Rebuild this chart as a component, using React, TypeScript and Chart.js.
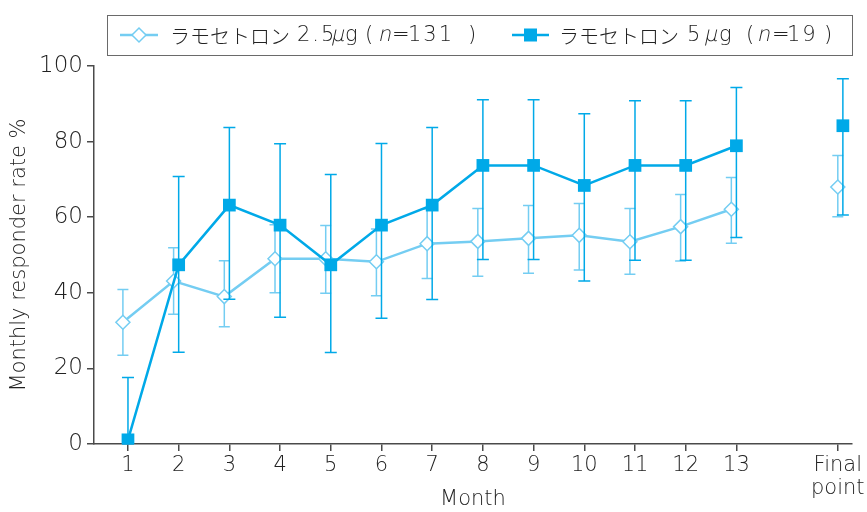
import React, { useEffect, useRef } from 'react';
import { Chart, registerables } from 'chart.js';

Chart.register(...registerables);

// Months on the x axis; the final-point visit sits at position 15.
const months = [1, 2, 3, 4, 5, 6, 7, 8, 9, 10, 11, 12, 13];
const finalPosition = 15;
const finalLabel = ['Final', 'point'];
const yTicks = [0, 20, 40, 60, 80, 100];

// ラモセトロン 2.5μg (n=131): responder rate % with 95% CI
const lowDoseRate = [32.2, 43.1, 39.0, 49.0, 49.0, 48.2, 53.0, 53.6, 54.4, 55.2, 53.5, 57.5, 62.1];
const lowDoseUpper = [40.9, 51.9, 48.5, 58.0, 57.8, 56.9, 62.2, 62.3, 63.1, 63.6, 62.3, 66.0, 70.5];
const lowDoseLower = [23.5, 34.3, 31.0, 40.0, 39.9, 39.2, 43.8, 44.4, 45.2, 46.0, 44.9, 48.4, 53.1];
const lowDoseFinal = 68.0;
const lowDoseFinalUpper = 76.3;
const lowDoseFinalLower = 60.1;

// ラモセトロン 5μg (n=19): responder rate % with 95% CI
const highDoseRate = [1.1, 47.4, 63.2, 57.9, 47.4, 57.9, 63.2, 73.7, 73.7, 68.4, 73.7, 73.7, 78.9];
const highDoseUpper = [17.6, 70.8, 83.7, 79.4, 71.3, 79.5, 83.7, 91.1, 91.1, 87.4, 90.8, 90.8, 94.3];
const highDoseLower = [0, 24.3, 38.3, 33.5, 24.2, 33.3, 38.2, 48.8, 48.8, 43.1, 48.6, 48.6, 54.6];
const highDoseFinal = 84.2;
const highDoseFinalUpper = 96.6;
const highDoseFinalLower = 60.6;

const LATIN = '"DejaVu Sans", sans-serif';
const KANA = '"Noto Sans CJK JP", sans-serif';
const TEXT = '#222222';
const AXIS = '#4a4a4a';
const DARK = '#00a9e8';
const LIGHT = '#74cdf2';

// Small horizontal shifts so the two series' error bars don't overlap.
const LOW_SHIFT = -0.1;
const HIGH_FINAL_SHIFT = 0.1;

// Legend text runs; dx is the run's offset from the start of the entry text.
type Run = { t: string; dx: number; kana?: boolean; italic?: boolean };
const legendLow: Run[] = [
  { t: 'ラモセトロン', dx: 0, kana: true },
  { t: '2.5', dx: 127 },
  { t: 'μ', dx: 162, italic: true },
  { t: 'g', dx: 175 },
  { t: '(', dx: 195 },
  { t: 'n', dx: 209, italic: true },
  { t: '=', dx: 222 },
  { t: '131', dx: 238 },
  { t: ')', dx: 298 },
];
const legendHigh: Run[] = [
  { t: 'ラモセトロン', dx: 0, kana: true },
  { t: '5', dx: 128 },
  { t: 'μ', dx: 146, italic: true },
  { t: 'g', dx: 160 },
  { t: '(', dx: 187 },
  { t: 'n', dx: 199, italic: true },
  { t: '=', dx: 213 },
  { t: '19', dx: 228 },
  { t: ')', dx: 265 },
];

function buildSeries(rate: number[], upper: number[], lower: number[], fin: number, finU: number, finL: number, shift: number, finShift: number) {
  const data = months.map((m, i) => ({ x: m + shift, y: rate[i] }));
  data.push({ x: 14, y: null as any }); // break the line before the final point
  data.push({ x: finalPosition + finShift, y: fin });
  const up = [...upper, null, finU];
  const lo = [...lower, null, finL];
  return { data, up, lo };
}

const errorBarPlugin = {
  id: 'errorBars',
  beforeDatasetDraw(chart: any, args: any) {
    const ds = chart.data.datasets[args.index];
    if (!ds.errorBars) return;
    const meta = chart.getDatasetMeta(args.index);
    const yScale = chart.scales.y;
    const { upper, lower, cap, color } = ds.errorBars;
    const ctx = chart.ctx;
    ctx.save();
    ctx.strokeStyle = color;
    ctx.lineWidth = 1.5;
    meta.data.forEach((pt: any, i: number) => {
      const hi = upper[i];
      const lo = lower[i];
      if (hi == null || lo == null) return;
      const x = pt.x;
      const yTop = yScale.getPixelForValue(hi);
      const yBot = yScale.getPixelForValue(lo);
      ctx.beginPath();
      ctx.moveTo(x, yTop);
      ctx.lineTo(x, yBot);
      ctx.moveTo(x - cap, yTop);
      ctx.lineTo(x + cap, yTop);
      ctx.moveTo(x - cap, yBot);
      ctx.lineTo(x + cap, yBot);
      ctx.stroke();
    });
    ctx.restore();
  },
};

function drawRuns(ctx: CanvasRenderingContext2D, runs: Run[], x: number, y: number) {
  for (const r of runs) {
    ctx.save();
    if (r.kana) {
      ctx.font = `300 20px ${KANA}`;
      (ctx as any).letterSpacing = '0px';
    } else {
      ctx.font = `200 21px ${LATIN}`;
      (ctx as any).letterSpacing = '2px';
    }
    ctx.translate(x + r.dx, y);
    if (r.italic) ctx.transform(1, 0, -0.22, 1, 0, 0);
    ctx.fillText(r.t, 0, 0);
    ctx.restore();
  }
}

const legendPlugin = {
  id: 'boxLegend',
  afterDraw(chart: any) {
    const ctx: CanvasRenderingContext2D = chart.ctx;
    ctx.save();
    ctx.strokeStyle = '#6a6a6a';
    ctx.lineWidth = 1;
    ctx.strokeRect(107.5, 15.5, 745, 40);
    const cy = 35;

    // low-dose entry: line with open diamond
    ctx.strokeStyle = LIGHT;
    ctx.lineWidth = 2.5;
    ctx.beginPath();
    ctx.moveTo(120, cy);
    ctx.lineTo(158, cy);
    ctx.stroke();
    ctx.fillStyle = '#ffffff';
    ctx.lineWidth = 1.5;
    ctx.beginPath();
    ctx.moveTo(139, cy - 7);
    ctx.lineTo(146, cy);
    ctx.lineTo(139, cy + 7);
    ctx.lineTo(132, cy);
    ctx.closePath();
    ctx.fill();
    ctx.stroke();

    // high-dose entry: line with filled square
    ctx.strokeStyle = DARK;
    ctx.lineWidth = 2.5;
    ctx.beginPath();
    ctx.moveTo(512, cy);
    ctx.lineTo(549, cy);
    ctx.stroke();
    ctx.fillStyle = DARK;
    ctx.fillRect(524, cy - 6.5, 13, 13);

    ctx.fillStyle = TEXT;
    ctx.textBaseline = 'middle';
    ctx.textAlign = 'left';
    drawRuns(ctx, legendLow, 170, cy + 1);
    drawRuns(ctx, legendHigh, 559, cy + 1);
    ctx.restore();
  },
};

export default function App() {
  const canvasRef = useRef<HTMLCanvasElement | null>(null);

  useEffect(() => {
    if (!canvasRef.current) return;
    const low = buildSeries(lowDoseRate, lowDoseUpper, lowDoseLower, lowDoseFinal, lowDoseFinalUpper, lowDoseFinalLower, LOW_SHIFT, 0);
    const high = buildSeries(highDoseRate, highDoseUpper, highDoseLower, highDoseFinal, highDoseFinalUpper, highDoseFinalLower, 0, HIGH_FINAL_SHIFT);

    const chart = new Chart(canvasRef.current, {
      type: 'line',
      data: {
        datasets: [
          {
            label: 'ラモセトロン 5μg（n=19）',
            data: high.data,
            borderColor: DARK,
            backgroundColor: DARK,
            borderWidth: 2.5,
            pointStyle: 'rect',
            pointRadius: 9,
            pointBorderWidth: 0,
            pointBackgroundColor: DARK,
            spanGaps: false,
            order: 0,
            errorBars: { upper: high.up, lower: high.lo, cap: 6, color: DARK },
          } as any,
          {
            label: 'ラモセトロン 2.5μg（n=131）',
            data: low.data,
            borderColor: LIGHT,
            backgroundColor: '#ffffff',
            borderWidth: 2.5,
            pointStyle: 'rectRot',
            pointRadius: 7,
            pointBorderWidth: 1.5,
            pointBorderColor: LIGHT,
            pointBackgroundColor: '#ffffff',
            spanGaps: false,
            order: 1,
            errorBars: { upper: low.up, lower: low.lo, cap: 5.5, color: LIGHT },
          } as any,
        ],
      },
      options: {
        animation: false,
        responsive: false,
        maintainAspectRatio: false,
        layout: { padding: { top: 66, right: 15, left: 0, bottom: 0 } },
        plugins: { legend: { display: false }, tooltip: { enabled: false } },
        scales: {
          x: {
            type: 'linear',
            min: 0.33,
            max: 15.28,
            afterBuildTicks: (s: any) => {
              s.ticks = [...months, finalPosition].map((v) => ({ value: v }));
            },
            afterFit: (s: any) => {
              s.height = 68;
              s.paddingLeft = 0;
              s.paddingRight = 0;
            },
            ticks: {
              autoSkip: false,
              maxRotation: 0,
              padding: 3,
              color: TEXT,
              font: { family: LATIN, size: 21, weight: 200, lineHeight: 1.1 },
              callback: (v: any) => (v === finalPosition ? finalLabel : String(v)),
            },
            grid: { drawOnChartArea: false, tickLength: 7, color: AXIS, lineWidth: 1.5 },
            border: { color: AXIS, width: 1.5 },
            title: {
              display: true,
              text: 'Month',
              color: TEXT,
              font: { family: LATIN, size: 21, weight: 200 },
              padding: { top: 0, bottom: 0 },
            },
          },
          y: {
            min: 0,
            max: 100,
            afterBuildTicks: (s: any) => {
              s.ticks = yTicks.map((v) => ({ value: v }));
            },
            afterFit: (s: any) => {
              s.width = 94;
            },
            ticks: {
              padding: 4,
              color: TEXT,
              font: { family: LATIN, size: 23, weight: 200 },
            },
            grid: { drawOnChartArea: false, tickLength: 7, color: AXIS, lineWidth: 1.5 },
            border: { color: AXIS, width: 1.5 },
            title: {
              display: true,
              text: 'Monthly responder rate %',
              color: TEXT,
              font: { family: LATIN, size: 21, weight: 200 },
              padding: { top: 7, bottom: 0 },
            },
          },
        },
      } as any,
      plugins: [errorBarPlugin, legendPlugin],
    });
    return () => chart.destroy();
  }, []);

  return (
    <div style={{ position: 'absolute', left: 0, top: 0, width: 867, height: 512, background: '#ffffff' }}>
      <canvas ref={canvasRef} width={867} height={512} style={{ width: 867, height: 512 }} />
    </div>
  );
}
